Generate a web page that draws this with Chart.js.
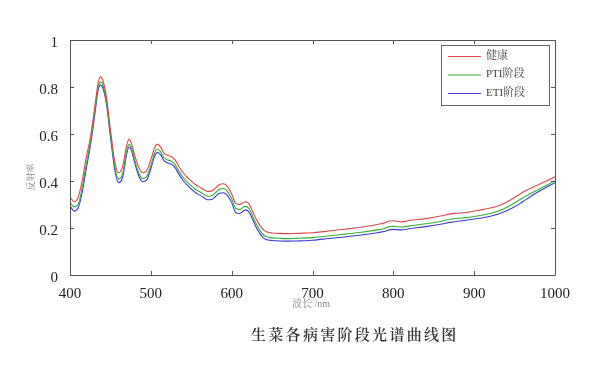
<!DOCTYPE html>
<html>
<head>
<meta charset="utf-8">
<script src="https://cdn.jsdelivr.net/npm/chart.js@4.4.0/dist/chart.umd.min.js"></script>
<style>
html,body{margin:0;padding:0;background:#fff;}
canvas{display:block;}
</style>
</head>
<body>
<canvas id="c" width="610" height="366"></canvas>
<script>
const wavelengths = [400,405,410,415,420,425,430,435,438,440,445,450,455,460,465,470,473,476,480,485,490,495,500,505,508,512,516,520,525,530,535,540,545,550,555,560,565,570,575,580,585,590,595,600,605,610,615,618,622,626,630,635,640,645,650,660,670,680,690,700,720,740,760,780,790,795,800,810,820,840,860,870,880,890,900,920,930,940,950,960,980,1000];
const healthy = [0.333,0.312,0.33,0.40,0.50,0.58,0.70,0.82,0.843,0.835,0.76,0.62,0.49,0.435,0.46,0.55,0.578,0.56,0.51,0.46,0.435,0.445,0.49,0.545,0.557,0.545,0.52,0.51,0.505,0.49,0.46,0.435,0.415,0.40,0.385,0.375,0.365,0.356,0.357,0.37,0.385,0.388,0.375,0.345,0.305,0.30,0.31,0.312,0.30,0.27,0.24,0.21,0.19,0.182,0.179,0.177,0.176,0.177,0.178,0.18,0.187,0.195,0.203,0.215,0.222,0.23,0.231,0.226,0.232,0.24,0.252,0.26,0.263,0.266,0.272,0.285,0.295,0.31,0.33,0.352,0.385,0.418];
const pti = [0.31,0.29,0.30,0.37,0.47,0.56,0.68,0.80,0.822,0.815,0.74,0.60,0.47,0.408,0.43,0.525,0.556,0.54,0.49,0.435,0.41,0.42,0.465,0.522,0.536,0.525,0.50,0.49,0.485,0.47,0.44,0.415,0.395,0.38,0.365,0.355,0.345,0.335,0.336,0.35,0.365,0.368,0.355,0.325,0.284,0.279,0.29,0.292,0.28,0.25,0.22,0.19,0.168,0.161,0.158,0.156,0.155,0.156,0.157,0.159,0.166,0.174,0.182,0.192,0.199,0.206,0.207,0.204,0.209,0.218,0.229,0.237,0.241,0.244,0.249,0.262,0.272,0.287,0.306,0.328,0.365,0.40];
const eti = [0.295,0.272,0.285,0.35,0.45,0.545,0.665,0.79,0.808,0.802,0.73,0.59,0.455,0.393,0.415,0.512,0.545,0.53,0.478,0.422,0.397,0.405,0.452,0.508,0.522,0.512,0.488,0.478,0.472,0.457,0.427,0.402,0.382,0.366,0.351,0.341,0.331,0.32,0.321,0.334,0.348,0.35,0.338,0.308,0.266,0.262,0.274,0.277,0.265,0.236,0.205,0.176,0.156,0.149,0.147,0.145,0.144,0.145,0.146,0.148,0.155,0.162,0.17,0.18,0.186,0.192,0.194,0.192,0.197,0.206,0.217,0.224,0.229,0.233,0.238,0.25,0.26,0.273,0.29,0.312,0.355,0.393];
const seriesNames = ['健康','PTI阶段','ETI阶段'];
const seriesColors = ['#e04848','#34b034','#3a3ad8'];
const xTicks = [400,500,600,700,800,900,1000];
const yTicks = [0,0.2,0.4,0.6,0.8,1];

const serifFamily = "Liberation Serif, Noto Serif CJK SC, serif";
Chart.defaults.font.family = serifFamily;

const allSeries = [healthy, pti, eti];
const datasets = allSeries.map((s,i)=>({
  label: seriesNames[i],
  data: wavelengths.map((w,j)=>({x:w,y:s[j]})),
  borderColor: seriesColors[i],
  borderWidth: 1.1,
  pointRadius: 0,
  fill: false,
  cubicInterpolationMode: 'monotone'
}));

const decor = {
  id:'decor',
  afterDraw(chart){
    const ctx = chart.ctx;
    const a = chart.chartArea;
    const xs = chart.scales.x, ys = chart.scales.y;
    ctx.save();
    ctx.strokeStyle = '#555';
    ctx.lineWidth = 1;
    ctx.beginPath();
    ctx.rect(Math.round(a.left)+0.5, Math.round(a.top)+0.5, Math.round(a.right-a.left), Math.round(a.bottom-a.top));
    ctx.stroke();
    ctx.beginPath();
    const tl = 4;
    xTicks.forEach(v=>{
      const px = Math.round(xs.getPixelForValue(v))+0.5;
      ctx.moveTo(px, a.bottom); ctx.lineTo(px, a.bottom-tl);
      ctx.moveTo(px, a.top); ctx.lineTo(px, a.top+tl);
    });
    yTicks.forEach(v=>{
      const py = Math.round(ys.getPixelForValue(v))+0.5;
      ctx.moveTo(a.left, py); ctx.lineTo(a.left+tl, py);
      ctx.moveTo(a.right, py); ctx.lineTo(a.right-tl, py);
    });
    ctx.stroke();

    // legend
    const lx=441.5, ly=45.5, lw=108, lh=60;
    ctx.fillStyle='#fff';
    ctx.fillRect(lx,ly,lw,lh);
    ctx.strokeStyle='#666';
    ctx.strokeRect(lx,ly,lw,lh);
    const rows=[56,74.5,93];
    ctx.font = "11px Liberation Serif, Noto Serif CJK SC, serif";
    ctx.textBaseline='middle';
    ctx.textAlign='left';
    chart.data.datasets.forEach((d,i)=>{
      ctx.strokeStyle=d.borderColor;
      ctx.lineWidth=1;
      ctx.beginPath();
      ctx.moveTo(448, rows[i]+0.5); ctx.lineTo(481, rows[i]+0.5);
      ctx.stroke();
      ctx.fillStyle='#444';
      ctx.fillText(d.label, 486, rows[i]);
    });

    // axis titles
    ctx.fillStyle='#888';
    ctx.font="10px Liberation Serif, Noto Serif CJK SC, serif";
    ctx.textAlign='center';
    ctx.fillText('波长 /nm', 311, 304);
    ctx.save();
    ctx.translate(31, 177);
    ctx.rotate(-Math.PI/2);
    ctx.font="9px Noto Serif CJK SC, serif";
    ctx.fillText('反射率', 0, 0);
    ctx.restore();

    // main title
    ctx.fillStyle='#333';
    ctx.font="600 15px Noto Serif CJK SC, serif";
    ctx.textAlign='left';
    const title='生菜各病害阶段光谱曲线图';
    let x=251;
    for(const ch of title){
      ctx.fillText(ch, x, 334);
      x += ctx.measureText(ch).width + 2.3;
    }
    ctx.restore();
  }
};

new Chart(document.getElementById('c'), {
  type:'line',
  data:{datasets},
  options:{
    responsive:false,
    animation:false,
    layout:{padding:{top:40,right:55,left:0,bottom:0}},
    plugins:{legend:{display:false},tooltip:{enabled:false},title:{display:false}},
    scales:{
      x:{
        type:'linear', min:400, max:1000,
        afterBuildTicks(scale){ scale.ticks = xTicks.map(v=>({value:v})); },
        afterFit(scale){ scale.height = 91; },
        grid:{display:false},
        border:{display:false},
        ticks:{font:{family:serifFamily, size:15}, color:'#222', padding:2, maxRotation:0, autoSkip:false,
          callback:(v)=>String(v)}
      },
      y:{
        min:0, max:1,
        afterBuildTicks(scale){ scale.ticks = yTicks.map(v=>({value:v})); },
        afterFit(scale){ scale.width = 70; },
        grid:{display:false},
        border:{display:false},
        ticks:{font:{family:serifFamily, size:15}, color:'#222', padding:4, labelOffset:3,
          callback:(v)=>String(Math.round(v*10)/10)}
      }
    }
  },
  plugins:[decor]
});
</script>
</body>
</html>
